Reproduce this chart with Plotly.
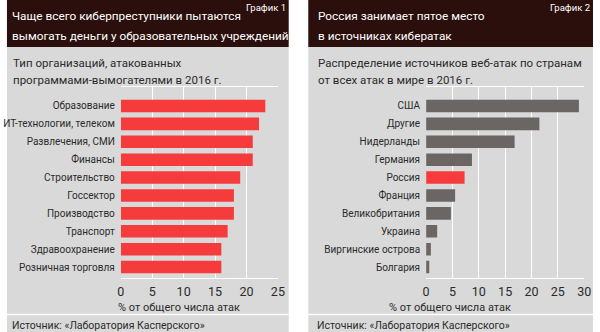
import plotly.graph_objects as go

W, H = 600, 332

# ---- data ----
sectors = ["Образование", "ИТ-технологии, телеком", "Развлечения, СМИ", "Финансы",
           "Строительство", "Госсектор", "Производство", "Транспорт",
           "Здравоохранение", "Розничная торговля"]
sector_values = [23, 22, 21, 21, 19, 18, 18, 17, 16, 16]

countries = ["США", "Другие", "Нидерланды", "Германия", "Россия", "Франция",
             "Великобритания", "Украина", "Виргинские острова", "Болгария"]
country_values = [29.0, 21.5, 16.8, 8.7, 7.3, 5.5, 4.7, 2.1, 0.9, 0.6]
highlight_country = "Россия"

left_ticks = [0, 5, 10, 15, 20, 25]
right_ticks = [0, 5, 10, 15, 20, 25, 30]

# ---- style ----
FONT = "Roboto, Liberation Sans, sans-serif"
PANEL = "#d9d9d9"
HEADER = "#2a0f0c"
RED = "#f53b3b"
GRAY = "#6b6564"
TXT = "#2b2b2b"


def px(x):
    return x / W


def py(y):
    return 1 - y / H


fig = go.Figure()

fig.add_trace(go.Bar(x=sector_values, y=sectors, orientation="h",
                     marker=dict(color=RED, line=dict(width=0)),
                     width=0.7, xaxis="x", yaxis="y", hoverinfo="skip"))
fig.add_trace(go.Bar(x=country_values, y=countries, orientation="h",
                     marker=dict(color=[RED if c == highlight_country else GRAY for c in countries],
                                 line=dict(width=0)),
                     width=0.7, xaxis="x2", yaxis="y2", hoverinfo="skip"))

shapes = []
for x0, x1 in [(3, 290), (310, 600)]:
    shapes.append(dict(type="rect", xref="paper", yref="paper", x0=px(x0), x1=px(x1),
                       y0=0, y1=1, fillcolor=PANEL, line=dict(width=0), layer="below"))
    shapes.append(dict(type="rect", xref="paper", yref="paper", x0=px(x0), x1=px(x1),
                       y0=py(47), y1=1, fillcolor=HEADER, line=dict(width=0), layer="below"))
    shapes.append(dict(type="line", xref="paper", yref="paper", x0=px(x0), x1=px(x1),
                       y0=py(314.5), y1=py(314.5), line=dict(color="white", width=1.5), layer="below"))

ann = []


def text(x, y, s, size, color, anchor="left"):
    ann.append(dict(x=px(x), y=py(y), xref="paper", yref="paper", text=s, showarrow=False,
                    xanchor=anchor, yanchor="middle", xshift=0,
                    font=dict(family=FONT, size=size, color=color)))


TITLE = 11.8
# left panel texts
text(6, 16, "Чаще всего киберпреступники пытаются", TITLE, "white")
text(6, 35.5, "вымогать деньги у образовательных учреждений", TITLE, "white")
text(289, 8, "График 1", 9.5, "white", "right")
text(7, 63, "Тип организаций, атакованных", 11.5, TXT)
text(7, 80, "программами-вымогателями в 2016 г.", 11.5, TXT)
text(114, 307, "% от общего числа атак", 11, TXT)
text(6, 325, "Источник: «Лаборатория Касперского»", 10.5, TXT)

# right panel texts
text(318, 16, "Россия занимает пятое место", TITLE, "white")
text(318, 35.5, "в источниках кибератак", TITLE, "white")
text(599, 8, "График 2", 9.5, "white", "right")
text(318, 63, "Распределение источников веб-атак по странам", 11.5, TXT)
text(318, 80, "от всех атак в мире в 2016 г.", 11.5, TXT)
text(390, 307, "% от общего числа атак", 11, TXT)
text(317, 325, "Источник: «Лаборатория Касперского»", 10.5, TXT)

xcommon = dict(showgrid=True, gridcolor="white", gridwidth=1, zeroline=False,
               showline=True, linecolor="white", linewidth=1, mirror=True,
               ticks="outside", ticklen=2, tickcolor="rgba(0,0,0,0)",
               tickfont=dict(family=FONT, size=12.5, color=TXT), fixedrange=True)
ycommon = dict(type="category", showgrid=False, zeroline=False, showline=False,
               ticks="outside", ticklen=3, tickcolor="rgba(0,0,0,0)",
               tickfont=dict(family=FONT, size=10, color=TXT), fixedrange=True,
               range=[9.61, -1.06], domain=[py(278), py(87)])

fig.update_layout(
    width=W, height=H, margin=dict(l=0, r=0, t=0, b=0),
    paper_bgcolor="white", plot_bgcolor="rgba(0,0,0,0)",
    showlegend=False,
    font=dict(family=FONT),
    xaxis=dict(domain=[px(119), px(279)], range=[0, 25], tickvals=left_ticks, anchor="y", **xcommon),
    yaxis=dict(anchor="x", categoryorder="array", categoryarray=sectors, **ycommon),
    xaxis2=dict(domain=[px(430), px(591)], range=[0, 30], tickvals=right_ticks, anchor="y2", **xcommon),
    yaxis2=dict(anchor="x2", categoryorder="array", categoryarray=countries, **ycommon),
    shapes=shapes, annotations=ann,
)

fig.write_html("out.html")
